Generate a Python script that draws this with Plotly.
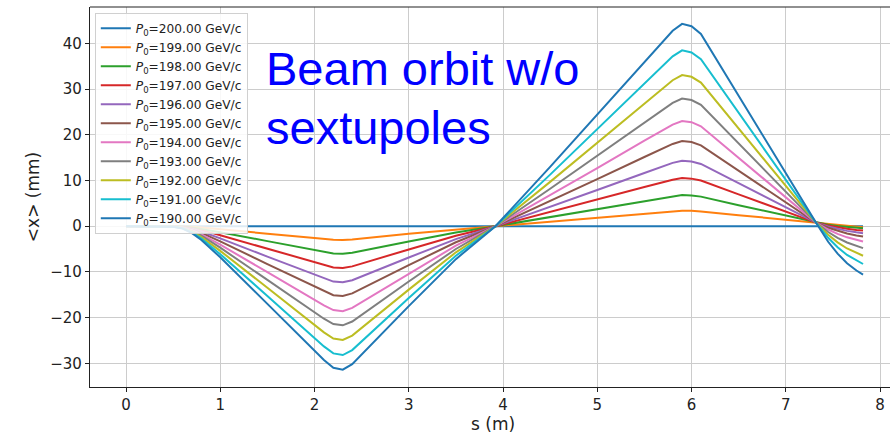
import plotly.graph_objects as go

# longitudinal position s (m)
s_m = [0.0, 0.3, 0.5, 0.6, 0.7, 0.8, 0.9, 1.0, 1.5, 2.0, 2.1, 2.2, 2.3, 2.4, 3.0, 3.5, 3.92,
       4.5, 5.0, 5.5, 5.8, 5.9, 6.0, 6.1, 6.5, 7.0, 7.32, 7.45, 7.55, 7.65, 7.75, 7.82]

momenta = [200, 199, 198, 197, 196, 195, 194, 193, 192, 191, 190]

x_200 = [0, 0, 0, 0, 0, 0, 0, 0, 0, 0, 0, 0, 0, 0, 0, 0, 0,
         0.04, 0.08, 0.12, 0.15, 0.15, 0.15, 0.14, 0.10, 0.04, 0.0, 0, 0, 0, 0, 0]
x_199 = [0, 0, -0.01, -0.05, -0.14, -0.29, -0.46, -0.65, -1.62, -2.59, -2.80, -2.96, -3.00, -2.88, -1.67, -0.69, 0,
         1.00, 1.89, 2.77, 3.30, 3.41, 3.37, 3.24, 2.43, 1.44, 0.8, 0.43, 0.20, 0.02, -0.12, -0.2]
x_198 = [0, 0, -0.02, -0.10, -0.29, -0.58, -0.92, -1.31, -3.26, -5.20, -5.63, -5.95, -6.03, -5.80, -3.36, -1.38, 0,
         2.00, 3.77, 5.54, 6.59, 6.82, 6.75, 6.48, 4.61, 2.29, 0.8, 0.34, 0.06, -0.17, -0.34, -0.44]
x_197 = [0, 0, -0.03, -0.15, -0.44, -0.87, -1.40, -1.98, -4.95, -7.89, -8.53, -9.02, -9.14, -8.79, -5.09, -2.10, 0,
         3.09, 5.83, 8.57, 10.19, 10.54, 10.42, 10.02, 6.98, 3.21, 0.8, 0.16, -0.24, -0.56, -0.81, -0.94]
x_196 = [0, 0, -0.04, -0.20, -0.59, -1.17, -1.88, -2.66, -6.65, -10.60, -11.46, -12.12, -12.28, -11.81, -6.84, -2.82, 0,
         4.21, 7.94, 11.66, 13.87, 14.35, 14.19, 13.64, 9.41, 4.16, 0.8, -0.06, -0.59, -1.02, -1.34, -1.53]
x_195 = [0, 0, -0.05, -0.24, -0.73, -1.46, -2.34, -3.31, -8.28, -13.20, -14.27, -15.10, -15.29, -14.71, -8.52, -3.51, 0,
         5.47, 10.31, 15.16, 18.02, 18.65, 18.44, 17.72, 12.15, 5.22, 0.8, -0.33, -1.02, -1.59, -2.01, -2.26]
x_194 = [0, 0, -0.06, -0.30, -0.89, -1.78, -2.84, -4.03, -10.06, -16.04, -17.35, -18.35, -18.59, -17.88, -10.36, -4.26, 0,
         6.76, 12.74, 18.72, 22.26, 23.04, 22.78, 21.89, 14.95, 6.31, 0.8, -0.72, -1.67, -2.43, -3.01, -3.34]
x_193 = [0, 0, -0.07, -0.35, -1.04, -2.07, -3.32, -4.70, -11.75, -18.73, -20.25, -21.42, -21.70, -20.87, -12.09, -4.98, 0,
         8.20, 15.46, 22.72, 27.01, 27.95, 27.64, 26.57, 18.08, 7.54, 0.8, -1.26, -2.53, -3.56, -4.35, -4.79]
x_192 = [0, 0, -0.08, -0.40, -1.19, -2.38, -3.81, -5.39, -13.48, -21.49, -23.23, -24.58, -24.90, -23.95, -13.88, -5.71, 0,
         9.71, 18.30, 26.89, 31.97, 33.09, 32.72, 31.45, 21.36, 8.82, 0.8, -1.88, -3.53, -4.87, -5.89, -6.46]
x_191 = [0, 0, -0.09, -0.45, -1.35, -2.69, -4.31, -6.11, -15.27, -24.34, -26.31, -27.84, -28.20, -27.12, -15.72, -6.47, 0,
         11.30, 21.29, 31.28, 37.19, 38.50, 38.06, 36.58, 24.80, 10.16, 0.8, -2.54, -4.61, -6.28, -7.56, -8.27]
x_190 = [0, 0, -0.1, -0.5, -1.5, -3.0, -4.8, -6.8, -17.0, -27.1, -29.3, -31.0, -31.4, -30.2, -17.5, -7.2, 0,
         13.0, 24.5, 36.0, 42.8, 44.3, 43.8, 42.1, 28.5, 11.6, 0.8, -3.4, -6.0, -8.1, -9.7, -10.6]

series = [x_200, x_199, x_198, x_197, x_196, x_195, x_194, x_193, x_192, x_191, x_190]

colors = ["#1f77b4", "#ff7f0e", "#2ca02c", "#d62728", "#9467bd", "#8c564b",
          "#e377c2", "#7f7f7f", "#bcbd22", "#17becf", "#1f77b4"]

x_ticks = [0, 1, 2, 3, 4, 5, 6, 7, 8]
y_ticks = [-30, -20, -10, 0, 10, 20, 30, 40]

fig = go.Figure()
for p, ys, c in zip(momenta, series, colors):
    fig.add_trace(go.Scatter(
        x=s_m, y=ys, mode="lines",
        line=dict(color=c, width=2),
        name=f"<i>P</i><sub>0</sub>={p:.2f} GeV/c",
    ))

axis_font = dict(family="DejaVu Sans", size=15, color="#222222")
title_font = dict(family="DejaVu Sans", size=17, color="#222222")

TOP, BOTTOM = 7, 48
plot_h = 435 - TOP - BOTTOM

fig.update_layout(
    width=890, height=435,
    margin=dict(l=90, r=0, t=TOP, b=BOTTOM),
    paper_bgcolor="white", plot_bgcolor="white",
    showlegend=True,
    legend=dict(
        x=0.006, y=0.985, xanchor="left", yanchor="top",
        bgcolor="rgba(255,255,255,0.85)", bordercolor="#d0d0d0", borderwidth=1,
        font=dict(family="DejaVu Sans", size=12.2, color="#222222"),
        tracegroupgap=0,
    ),
    xaxis=dict(
        range=[-0.382, 8.106], tickvals=x_ticks, ticktext=[str(v) for v in x_ticks],
        showgrid=True, gridcolor="#cccccc", gridwidth=1,
        showline=True, linecolor="#222222", linewidth=1.2,
        ticks="outside", ticklen=3.5, tickcolor="#222222",
        tickfont=axis_font, zeroline=False, automargin=False,
    ),
    yaxis=dict(
        range=[-35.2, 48.0], tickvals=y_ticks,
        ticktext=[("\u2212" + str(-v)) if v < 0 else str(v) for v in y_ticks],
        showgrid=True, gridcolor="#cccccc", gridwidth=1,
        showline=True, linecolor="#222222", linewidth=1.2,
        ticks="outside", ticklen=4, tickcolor="#222222",
        tickfont=axis_font, zeroline=False, automargin=False,
        title=dict(text="&lt;x&gt; (mm)", font=title_font, standoff=6),
    ),
    shapes=[dict(type="line", xref="paper", yref="paper", x0=0, x1=1, y0=1, y1=1,
                 line=dict(color="#222222", width=1.2))],
    annotations=[
        dict(text="s (m)", xref="paper", yref="paper", x=0.504, y=-BOTTOM / plot_h,
             xanchor="center", yanchor="bottom", showarrow=False, borderpad=0,
             font=title_font),
        dict(text="Beam orbit w/o", xref="paper", yref="paper", x=0.2175, y=0.838,
             xanchor="left", yanchor="middle", showarrow=False,
             font=dict(family="Liberation Sans", size=47, color="#0000ff")),
        dict(text="sextupoles", xref="paper", yref="paper", x=0.2175, y=0.684,
             xanchor="left", yanchor="middle", showarrow=False,
             font=dict(family="Liberation Sans", size=47, color="#0000ff")),
    ],
)

fig.write_html("out.html",
               config={"displayModeBar": False},
               post_script="document.body.style.margin='0';document.body.style.overflow='hidden';")
